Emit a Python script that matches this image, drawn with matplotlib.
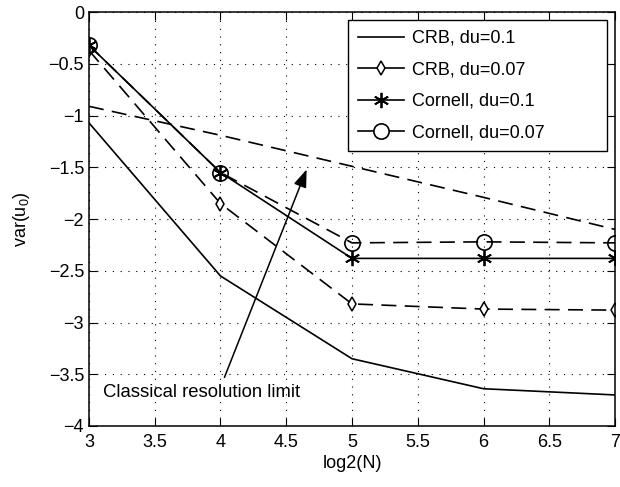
import matplotlib
matplotlib.use('Agg')
import matplotlib.pyplot as plt
from matplotlib.lines import Line2D
import numpy as np

plt.rcParams['font.family'] = ['Liberation Sans', 'DejaVu Sans']
plt.rcParams['mathtext.fontset'] = 'custom'
plt.rcParams['mathtext.rm'] = 'Liberation Sans'
plt.rcParams['mathtext.it'] = 'Liberation Sans'

# data
log2N = np.array([3, 4, 5, 6, 7])
crb_01 = np.array([-1.07, -2.55, -3.35, -3.64, -3.70])
crb_007 = np.array([-0.37, -1.85, -2.82, -2.87, -2.88])
cornell_01 = np.array([-0.32, -1.55, -2.38, -2.38, -2.38])
cornell_007 = np.array([-0.32, -1.55, -2.23, -2.22, -2.23])
classical = np.array([-0.91, -1.19, -1.49, -1.79, -2.10])
labels = ['CRB, du=0.1', 'CRB, du=0.07', 'Cornell, du=0.1', 'Cornell, du=0.07']

fig = plt.figure(figsize=(6.2, 4.87), dpi=100)
ax = fig.add_axes([0.1435, 0.1253, 0.8485, 0.8497])

dash = (9, 5)
ax.plot(log2N, crb_01, 'k-', lw=1.2)
ax.plot(log2N, crb_007, 'k--', dashes=dash, lw=1.2, marker='d', markersize=7.5,
        markerfacecolor='white', markeredgewidth=1.1)
ax.plot(log2N, cornell_01, 'k-', lw=1.2, marker=(6, 2, 0), markersize=11,
        markeredgewidth=1.3)
ax.plot(log2N, cornell_007, 'k--', dashes=dash, lw=1.2, marker='o', markersize=11,
        markerfacecolor='none', markeredgewidth=1.2)
ax.plot(log2N, classical, 'k--', dashes=dash, lw=1.2)

ax.annotate('', xy=(4.655, -1.52), xytext=(4.03, -3.53),
            arrowprops=dict(arrowstyle='-|>,head_length=0.6,head_width=0.22', color='k', lw=1.1,
                            mutation_scale=18, shrinkA=0, shrinkB=0))
ax.text(3.11, -3.68, 'Classical resolution limit', fontsize=13.3, va='center', ha='left')

ax.set_xlim(3, 7)
ax.set_ylim(-4, 0)
ax.set_xticks(np.arange(3, 7.01, 0.5))
ax.set_xticklabels(['3', '3.5', '4', '4.5', '5', '5.5', '6', '6.5', '7'])
ax.set_yticks(np.arange(-4, 0.01, 0.5))
ax.set_yticklabels(['\u22124', '\u22123.5', '\u22123', '\u22122.5', '\u22122',
                    '\u22121.5', '\u22121', '\u22120.5', '0'])
ax.tick_params(direction='in', top=True, right=True, labelsize=13, length=6, width=0.8)
ax.tick_params(axis='x', pad=6)
ax.grid(True, color='k', linestyle=(0, (1, 6)), linewidth=0.8)
for s in ax.spines.values():
    s.set_linewidth(1.1)

ax.set_xlabel('log2(N)', fontsize=13, labelpad=3)
ax.set_ylabel('var(u$_0$)', fontsize=13, labelpad=12)

# legend handles look solid in the original (segments are too short for dashes)
handles = [
    Line2D([], [], color='k', lw=1.2),
    Line2D([], [], color='k', lw=1.2, marker='d', markersize=7.5,
           markerfacecolor='white', markeredgewidth=1.1),
    Line2D([], [], color='k', lw=1.2, marker=(6, 2, 0), markersize=11, markeredgewidth=1.3),
    Line2D([], [], color='k', lw=1.2, marker='o', markersize=11,
           markerfacecolor='white', markeredgewidth=1.2),
]
leg = ax.legend(handles, labels, loc='upper left', bbox_to_anchor=(0.492, 0.672, 0.492, 0.309),
                mode='expand', fontsize=13, fancybox=False, framealpha=1,
                edgecolor='k', borderaxespad=0, handlelength=2.55,
                handletextpad=0.45, labelspacing=0.8, borderpad=0.55)
leg.get_frame().set_linewidth(1.0)

fig.savefig('out.png', dpi=100)
